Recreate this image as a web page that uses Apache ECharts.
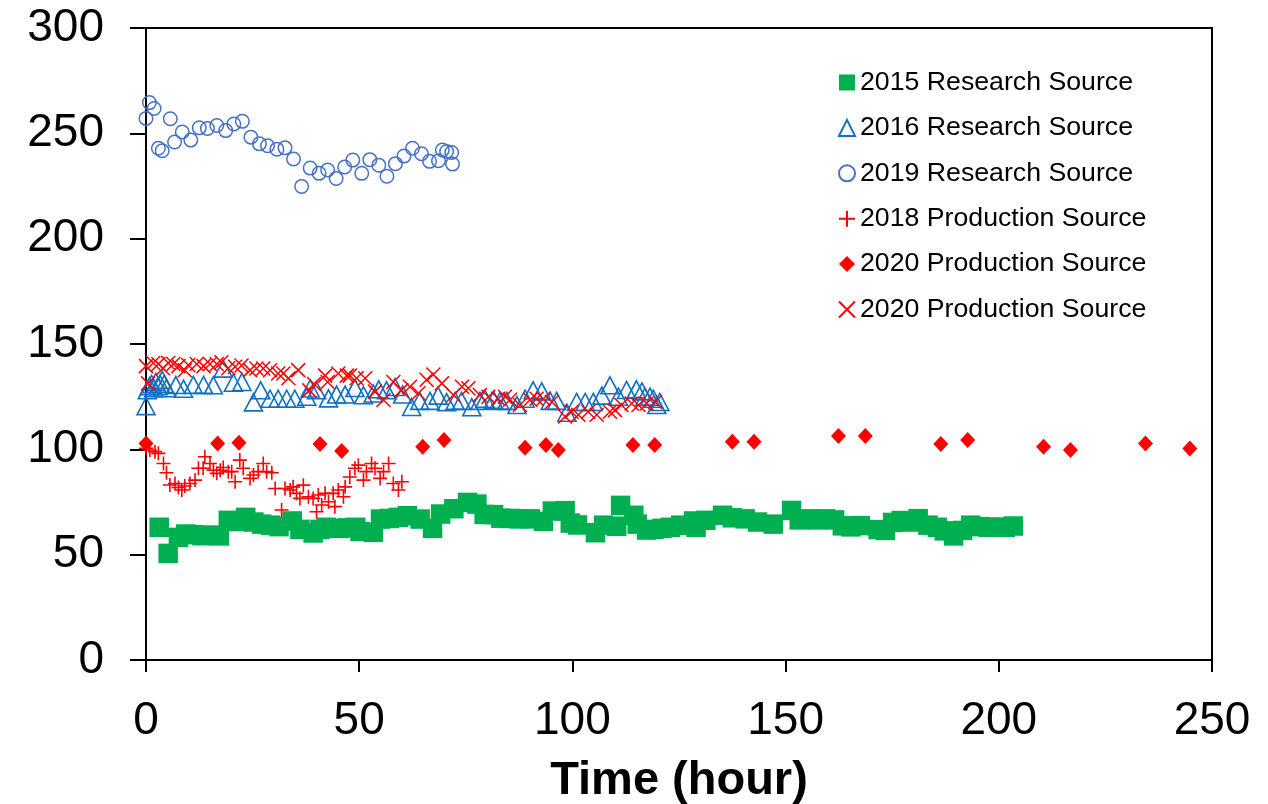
<!DOCTYPE html>
<html>
<head>
<meta charset="utf-8">
<script src="https://cdn.jsdelivr.net/npm/echarts@6/dist/echarts.min.js"></script>
<style>
  html, body { margin: 0; padding: 0; background: #fff; }
  #chart { width: 1268px; height: 804px; }
</style>
</head>
<body>
<div id="chart"></div>
<script>
// Measured values, [time in hours, value]
const research2015 = [
  [3.1,63],[5.2,50.6],[7.6,58.2],[9.3,59.8],[11.2,59.5],[13.1,59],[15.1,59.3],[17.2,58.9],[19.3,66.3],[21.4,65.7],
  [23.4,67.7],[25.3,65.5],[27.1,64.5],[29.2,64],[31.2,63.3],[34.3,66],[36.1,62],[39.2,60.3],[40.8,62],[42.3,63],
  [45.3,62.5],[47.3,62.7],[49.2,63],[50.2,61],[53.3,60.6],[55.0,66.9],[57.1,67.2],[59.2,67.7],[61.3,68.5],[64.3,66.9],
  [67.2,62.5],[69.1,69.3],[72.2,71.8],[75.4,74.8],[77.6,74],[79.3,69.1],[81.5,69],[83.2,67.3],[85.4,67.2],[87.5,67],
  [90.1,67],[93.2,65.8],[95.3,70.7],[98.3,70.9],[99.5,65],[101.2,64.1],[105.4,60.4],[107.3,64],[110.4,63.5],[111.3,73.4],
  [114.4,68.7],[115.2,64.5],[117.4,61.7],[119.1,62],[121.0,62.5],[123,63],[125.4,64],[128.4,66],[129,63],[131.3,66.3],
  [135.2,68.7],[137.5,67.5],[140.5,67],[143.4,65.5],[147.1,64.5],[151.4,71],[153.2,66.5],[155.6,67],[157.5,66.5],[159.4,67],
  [161.5,66.5],[163.3,63.7],[165.3,63.2],[167.5,63.8],[171.7,61.9],[173.4,61.5],[175.1,65.3],[177.1,66.2],[179.2,65.5],[181.1,67.1],
  [183.4,64],[185.6,63],[187.2,61.3],[189.4,58.9],[191.5,61.5],[193.4,64],[195.6,63.3],[197.6,63],[199.5,63],[201.5,63],[203.4,63.6]
];
const research2016 = [
  [0,120.5],[0.3,128],[0.8,130],[1.3,131],[1.8,129],[2.3,132],[2.8,130],[3.3,131],[3.8,133],[4.3,131],[4.8,129],
  [7.0,130.5],[8.8,128.8],[11.1,130.6],[13.5,130.6],[15.8,130.4],[18.1,138.3],[20.5,131.6],[22.5,132],[25.2,122.3],
  [26.9,128],[29.1,124],[31.0,124],[33.0,124],[34.9,124],[37.7,125],[38.5,128.9],[40,128],[42.8,124.2],[44.7,126],
  [46.7,126],[49.0,129.1],[51,125.7],[53.3,126.5],[54.6,128.5],[56.4,128],[58.4,129.6],[60.2,126],[62.3,120.1],[64.2,123],
  [66.6,123],[68.5,125.5],[70.5,122.4],[72.5,123],[74,123],[76.4,120],[78.3,123],[79.5,124],[81.5,123.5],[83,123],
  [84.6,123],[87,121],[88.9,124],[90.8,128],[92.8,127.5],[94.8,123],[96.3,123],[98.7,117.4],[101,122.5],[103,122.5],
  [104.9,122.5],[106.9,125.5],[108.8,130.4],[110.8,125],[112.7,128.2],[115,128.5],[116.3,127.5],[117,125],[118.2,125],
  [119,124],[119.8,121],[120.5,122.5]
];
const research2019 = [
  [0,257.1],[0.8,264.6],[1.9,261.8],[2.9,242.9],[3.8,241.7],[5.7,256.9],[6.7,245.9],[8.5,250.6],[10.5,246.8],[12.5,252.6],
  [14.4,252.3],[16.6,253.7],[18.7,251.3],[20.6,254.4],[22.6,255.7],[24.6,248.2],[26.6,245.0],[28.5,244.1],[30.7,242.5],[32.6,243.1],
  [34.6,237.8],[36.5,224.8],[38.5,233.5],[40.6,231.0],[42.6,232.6],[44.6,228.6],[46.6,234.0],[48.5,237.3],[50.6,231.0],[52.5,237.5],
  [54.6,234.9],[56.5,229.6],[58.5,235.6],[60.5,239.2],[62.5,242.9],[64.6,240.3],[66.5,236.7],[68.6,237.0],[69.5,242.1],[70.5,241.4],
  [71.7,240.9],[71.9,235.4]
];
const production2018 = [
  [0,100.5],[0.9,99.7],[2.1,98.9],[2.9,98.1],[4.1,93.3],[4.8,88.9],[5.6,83.1],[6.8,83.8],[7.6,81.9],[8.4,80.7],
  [9.1,82.6],[10.3,83.8],[11.5,85.4],[12.3,91],[13.4,91],[13.8,96.5],[15,93.3],[15.8,90.1],[16.6,88.6],[17.4,90.1],
  [18.1,91.4],[19.3,89.4],[20.1,89.4],[20.9,84.6],[22,94.9],[22.8,91],[24.4,86.2],[25.2,87.8],[26.3,89.4],[27.5,93.3],
  [28.3,89.4],[29.5,88.9],[30.3,81.4],[31.8,71.2],[32.6,81.4],[33.8,80.7],[34.5,82.2],[35.3,79.1],[36.1,76.7],[36.9,83],
  [38.1,77.5],[39.2,76.7],[40,70.4],[40.4,78.3],[41.2,73.6],[42,79.1],[42.8,75.1],[43.9,79.1],[44.3,72.8],[45.1,80.7],
  [46.3,77.5],[46.7,82.2],[47.8,86.9],[49,91],[49.8,92.5],[51,85.4],[51.7,89.4],[52.9,93.3],[53.7,91],[54.9,86.2],
  [55.7,89.4],[56.9,93.3],[58,83.8],[59.2,80.7],[60,84.6]
];
const production2020a = [
  [0,102.8],[16.8,102.8],[21.8,103.1],[40.8,102.5],[45.9,99.2],[64.9,101.2],[69.9,104.4],[88.9,100.8],[93.8,102],[96.7,99.7],
  [114.2,102],[119.3,102],[137.5,103.6],[142.6,103.6],[162.4,106.3],[168.7,106.3],[186.4,102.5],[192.7,104.4],[210.5,101.2],
  [216.8,99.7],[234.4,102.8],[244.8,100.4]
];
const production2020b = [
  [0,139.5],[0.5,131.3],[1.7,141],[2.9,140.5],[4.0,138.5],[5.2,141],[6.4,140.5],[7.6,139.5],[9.1,137.5],[9.9,140],
  [11.9,140.5],[13.5,139.5],[15,140.5],[16.6,140.5],[17.7,141.3],[19.3,138.5],[20.9,139.2],[22.4,139.8],[24.4,137.6],[25.9,138.4],
  [27.5,138.4],[29.1,137.5],[31,136],[32.2,136],[33.4,133.7],[35.7,137.6],[38.3,128],[39.4,131],[42,135],[42.6,132],
  [45.1,136],[47.1,135],[47.8,135],[49.4,133.7],[51.4,133.7],[53.7,127.4],[55.7,123.4],[58,132],[59.9,128],[61.9,129.7],
  [63.9,126.6],[65.8,133],[67.4,135.5],[69.4,131.3],[72.1,125.8],[74.1,129.7],[75.6,129],[78.3,125.8],[80.3,125],[82.6,124],
  [84.2,125],[85.4,123.5],[87.7,121],[90.1,123.5],[91.6,124],[93.2,124],[95.2,122.5],[98.3,115.6],[99.8,117.8],[101.4,116.4],
  [103.7,117.8],[105.7,116.4],[108.8,117.8],[110,118.6],[111.5,121],[113.9,121.8],[115.5,121],[117.4,121.8],[119.4,122.5]
];

const seriesNames = [
  '2015 Research Source',
  '2016 Research Source',
  '2019 Research Source',
  '2018 Production Source',
  '2020 Production Source',
  '2020 Production Source '   // second entry with the same label; trailing space keeps it distinct
];
const xTicks = { min: 0, max: 250, step: 50 };
const yTicks = { min: 0, max: 300, step: 50 };

const FONT = '"Liberation Sans", Arial, sans-serif';
const PLUS = 'path://M0,5L10,5M5,0L5,10';
const CROSS = 'path://M0,0L10,10M10,0L0,10';

const chart = echarts.init(document.getElementById('chart'), null, { renderer: 'canvas' });

function scatter(name, data, symbol, size, style) {
  return {
    type: 'scatter', name, data, symbol, symbolSize: size,
    clip: false, itemStyle: Object.assign({ opacity: 1 }, style),
    emphasis: { disabled: true }
  };
}

chart.setOption({
  animation: false,
  backgroundColor: '#fff',
  textStyle: { fontFamily: FONT },
  grid: {
    left: 146, right: 56, top: 28, bottom: 144,
    outerBoundsMode: 'none',
    show: true, borderColor: '#000', borderWidth: 2, backgroundColor: 'transparent'
  },
  xAxis: {
    type: 'value', min: xTicks.min, max: xTicks.max, interval: xTicks.step,
    name: 'Time (hour)', nameLocation: 'middle', nameGap: 98,
    nameTextStyle: { fontFamily: FONT, fontSize: 47, fontWeight: 'bold', color: '#000' },
    axisLine: { show: true, lineStyle: { color: '#000', width: 2 } },
    axisTick: { show: true, inside: false, length: 12, lineStyle: { color: '#000', width: 2 } },
    axisLabel: { fontFamily: FONT, fontSize: 46, color: '#000', margin: 38 },
    splitLine: { show: false }
  },
  yAxis: {
    type: 'value', min: yTicks.min, max: yTicks.max, interval: yTicks.step,
    axisLine: { show: true, lineStyle: { color: '#000', width: 2 } },
    axisTick: { show: true, inside: false, length: 16, lineStyle: { color: '#000', width: 2 } },
    axisLabel: { fontFamily: FONT, fontSize: 46, color: '#000', margin: 42 },
    splitLine: { show: false }
  },
  legend: {
    orient: 'vertical', left: 833, top: 64,
    itemWidth: 16, itemHeight: 16, itemGap: 18.4,
    textStyle: { fontFamily: FONT, fontSize: 26.7, color: '#000', lineHeight: 26 },
    formatter: n => n.trim(),
    data: seriesNames
  },
  series: [
    scatter(seriesNames[0], research2015, 'rect', 19.5, { color: '#00B050' }),
    scatter(seriesNames[1], research2016, 'triangle', [18, 17],
      { color: 'rgba(0,0,0,0)', borderColor: '#0F70C4', borderWidth: 1.6 }),
    scatter(seriesNames[2], research2019, 'circle', 13.5,
      { color: 'rgba(0,0,0,0)', borderColor: '#4472C4', borderWidth: 1.5 }),
    scatter(seriesNames[3], production2018, PLUS, 14,
      { color: 'rgba(0,0,0,0)', borderColor: '#FF0000', borderWidth: 1.6 }),
    scatter(seriesNames[4], production2020a, 'diamond', [15, 16], { color: '#FF0000' }),
    scatter(seriesNames[5], production2020b, CROSS, 14,
      { color: 'rgba(0,0,0,0)', borderColor: '#FF0000', borderWidth: 1.5 })
  ]
});
</script>
</body>
</html>
